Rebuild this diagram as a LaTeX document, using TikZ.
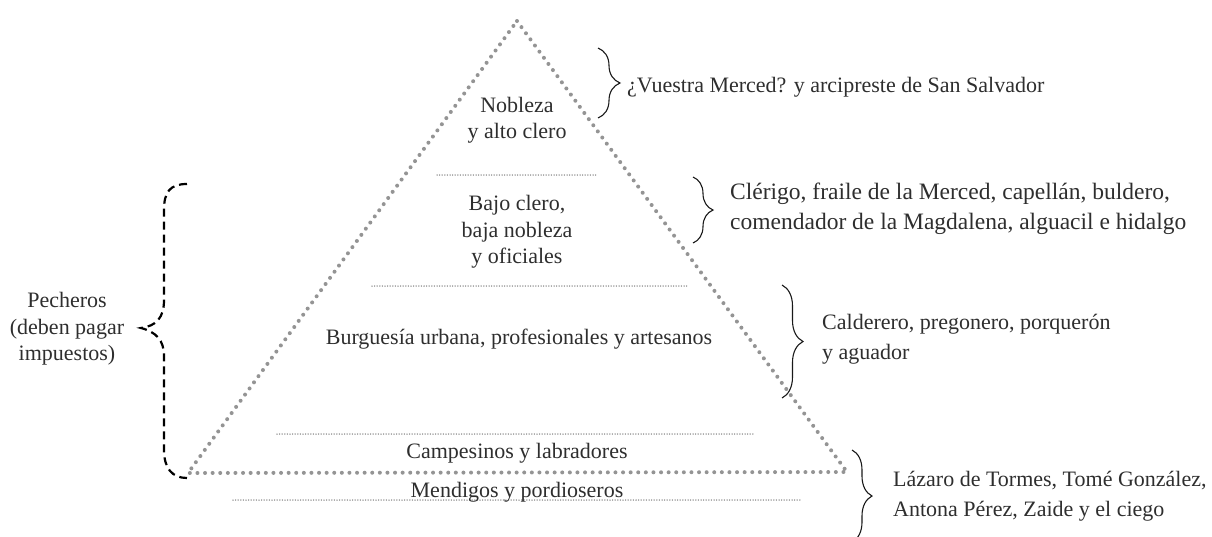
\documentclass[tikz,border=0pt]{standalone}
\usepackage{fontspec}
\setmainfont{Liberation Serif}
\usetikzlibrary{decorations.pathreplacing}
\begin{document}
\begin{tikzpicture}[x=1pt,y=-1pt,
 lbl/.style={inner sep=0pt, font=\fontsize{22}{26.5}\selectfont, align=center, text=black!82},
 side/.style={inner sep=0pt, font=\fontsize{22}{30}\selectfont, align=left, anchor=west, text=black!82},
 pyr/.style={draw=black!42, line width=4pt, line cap=round, dash pattern=on 0pt off 7.6pt},
 sepline/.style={draw=black!50, line width=1.5pt, line cap=round, dash pattern=on 0pt off 2.6pt},
 rbrace/.style={draw=black!90, line width=1.1pt, decorate, decoration={brace, amplitude=#1}},
 lbrace/.style={draw=black, line width=2.2pt, dash pattern=on 8pt off 5pt}]
\useasboundingbox (0,0) rectangle (1212,536);
% pyramid
\coordinate (apex) at (517,21);
\coordinate (bl) at (188,473);
\coordinate (br) at (847,472);
\draw[pyr] (apex) -- (br) -- (bl) -- cycle;
% separators
\coordinate (s1a) at (437,175); \coordinate (s1b) at (596,175);
\coordinate (s2a) at (372,286); \coordinate (s2b) at (688,286);
\coordinate (s3a) at (277,434); \coordinate (s3b) at (755,434);
\coordinate (s4a) at (233,500); \coordinate (s4b) at (800,500);
\draw[sepline] (s1a) -- (s1b);
\draw[sepline] (s2a) -- (s2b);
\draw[sepline] (s3a) -- (s3b);
\draw[sepline] (s4a) -- (s4b);
% level labels
\node[lbl] (nob) at (517,120) {Nobleza\\y alto clero};
\node[lbl] (bajo) at (517,232) {Bajo clero,\\baja nobleza\\y oficiales};
\node[lbl] (burg) at (519,339) {Burguesía urbana, profesionales y artesanos};
\node[lbl] (camp) at (517,453) {Campesinos y labradores};
\node[lbl] (mend) at (517,492) {Mendigos y pordioseros};
% right braces
\coordinate (b1t) at (598,48); \coordinate (b1b) at (598,118);
\coordinate (b2t) at (693,177); \coordinate (b2b) at (693,243);
\coordinate (b3t) at (782,285); \coordinate (b3b) at (782,398);
\coordinate (b4t) at (852,450); \coordinate (b4b) at (852,542);
\draw[rbrace=22] (b1t) -- (b1b);
\draw[rbrace=20] (b2t) -- (b2b);
\draw[rbrace=21] (b3t) -- (b3b);
\draw[rbrace=20] (b4t) -- (b4b);
\node[side] (t1) at (627,87) {¿Vuestra Merced? y arcipreste de San Salvador};
\node[side, font=\fontsize{23.5}{30}\selectfont] (t2) at (730,209) {Clérigo, fraile de la Merced, capellán, buldero,\\comendador de la Magdalena, alguacil e hidalgo};
\node[side] (t3) at (822,339) {Calderero, pregonero, porquerón\\y aguador};
\node[side] (t4) at (893,496) {Lázaro de Tormes, Tomé González,\\Antona Pérez, Zaide y el ciego};
% left dashed brace
\coordinate (lt) at (187,184);
\coordinate (ltip) at (141,328);
\coordinate (lb) at (187,478);
\draw[lbrace] (lt) .. controls (170,184) and (164,192) .. (164,210) -- (164,300)
  .. controls (164,318) and (156,326) .. (ltip)
  .. controls (156,332) and (164,340) .. (164,356) -- (164,450)
  .. controls (164,468) and (172,478) .. (lb);
\node[lbl] (pech) at (67,329) {Pecheros\\(deben pagar\\impuestos)};
\end{tikzpicture}
\end{document}
